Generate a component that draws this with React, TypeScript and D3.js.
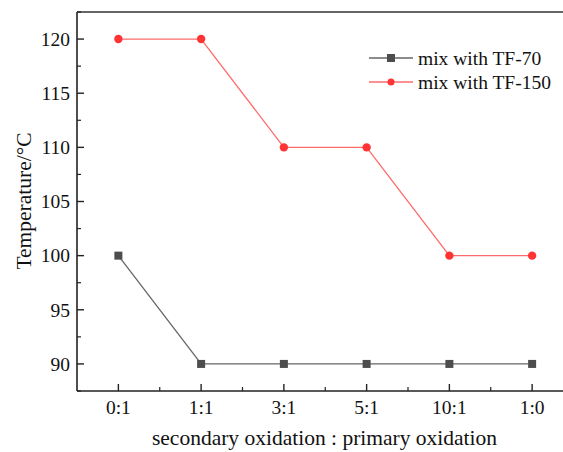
import React from "react";
import * as d3 from "d3";

const categories = ["0:1", "1:1", "3:1", "5:1", "10:1", "1:0"];
const tf70 = [100, 90, 90, 90, 90, 90];
const tf150 = [120, 120, 110, 110, 100, 100];
const yTicks = [90, 95, 100, 105, 110, 115, 120];
const yMinor = [87.5, 92.5, 97.5, 102.5, 107.5, 112.5, 117.5, 122.5];
const seriesNames = ["mix with TF-70", "mix with TF-150"];

export default function App() {
  const W = 563, H = 452;
  const left = 77, top = 12, bottom = 391;
  const x = d3.scaleLinear().domain([0.5, 6.5]).range([left, 573.5]);
  const y = d3.scaleLinear().domain([87.5, 122.5]).range([bottom, top]);
  const idx = categories.map((_, i) => i + 1);
  const line = d3.line<number>().x((_, i) => x(i + 1)).y((d) => y(d));
  const font = "'Liberation Serif', 'Times New Roman', serif";
  const minorX = d3.range(1.5, 6.5, 1);
  const axisColor = "#222";
  return (
    <svg width={W} height={H} style={{ position: "absolute", left: 0, top: 0 }} fontFamily={font}>
      <rect width={W} height={H} fill="white" />
      <line x1={left} x2={W} y1={top} y2={top} stroke="#333" strokeWidth={1.6} />
      <line x1={left} x2={left} y1={top} y2={bottom} stroke={axisColor} strokeWidth={1.6} />
      <line x1={left} x2={W} y1={bottom} y2={bottom} stroke={axisColor} strokeWidth={1.6} />
      {yTicks.map((t) => (
        <g key={t}>
          <line x1={left} x2={left + 7} y1={y(t)} y2={y(t)} stroke={axisColor} strokeWidth={1.4} />
          <text x={left - 7} y={y(t)} dy="0.35em" textAnchor="end" fontSize={19.5} fill="#111">{t}</text>
        </g>
      ))}
      {yMinor.map((t) => (
        <line key={t} x1={left} x2={left + 4} y1={y(t)} y2={y(t)} stroke={axisColor} strokeWidth={1.2} />
      ))}
      {idx.map((v, i) => (
        <g key={v}>
          <line x1={x(v)} x2={x(v)} y1={bottom} y2={bottom - 7} stroke={axisColor} strokeWidth={1.4} />
          <text x={x(v)} y={bottom + 23} textAnchor="middle" fontSize={19.5} fill="#111">{categories[i]}</text>
        </g>
      ))}
      {minorX.map((v) => (
        <line key={v} x1={x(v)} x2={x(v)} y1={bottom} y2={bottom - 4} stroke={axisColor} strokeWidth={1.2} />
      ))}
      <text x={324.5} y={445} textAnchor="middle" fontSize={21.5} fill="#111">secondary oxidation : primary oxidation</text>
      <text transform={`translate(31,201) rotate(-90)`} textAnchor="middle" fontSize={21.5} fill="#111">Temperature/°C</text>

      <path d={line(tf70) || ""} fill="none" stroke="#666" strokeWidth={1.3} />
      {tf70.map((v, i) => (
        <rect key={i} x={x(i + 1) - 4} y={y(v) - 4} width={8} height={8} fill="#4d4d4d" />
      ))}
      <path d={line(tf150) || ""} fill="none" stroke="#ff6b6b" strokeWidth={1.3} />
      {tf150.map((v, i) => (
        <circle key={i} cx={x(i + 1)} cy={y(v)} r={4.2} fill="#ff3333" />
      ))}

      <g>
        <line x1={369} x2={413} y1={58} y2={58} stroke="#666" strokeWidth={1.3} />
        <rect x={387} y={54} width={8} height={8} fill="#4d4d4d" />
        <text x={418} y={58} dy="0.35em" fontSize={19.5} fill="#111">{seriesNames[0]}</text>
        <line x1={369} x2={413} y1={82} y2={82} stroke="#ff6b6b" strokeWidth={1.3} />
        <circle cx={391} cy={82} r={3.5} fill="#ff3333" />
        <text x={418} y={82} dy="0.35em" fontSize={19.5} fill="#111">{seriesNames[1]}</text>
      </g>
    </svg>
  );
}
